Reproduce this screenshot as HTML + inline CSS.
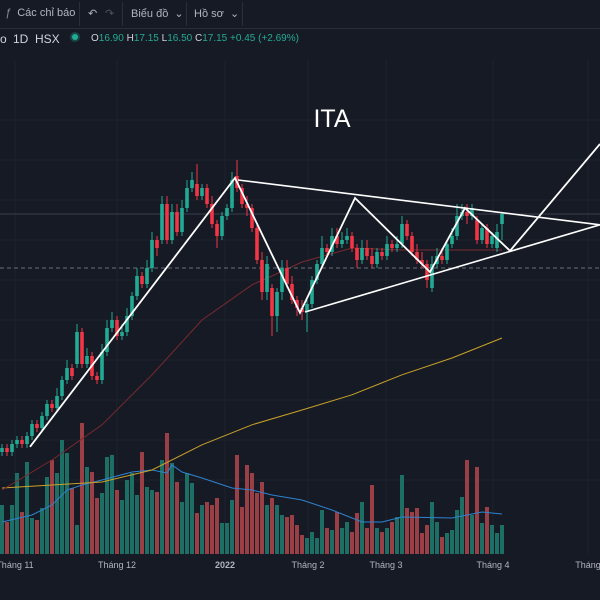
<!DOCTYPE html>
<html><head><meta charset="utf-8">
<style>
html,body{margin:0;padding:0;background:#161a25;}
body{width:600px;height:600px;overflow:hidden;position:relative;font-family:"Liberation Sans","Noto Sans CJK SC",sans-serif;}
.tb{position:absolute;left:0;top:0;width:600px;height:28px;border-bottom:1px solid #2a2e39;color:#b2b5be;font-size:11px;}
.tb span{position:absolute;top:7px;white-space:nowrap;}
.sep{position:absolute;top:2px;width:1px;height:24px;background:#2a2e39;}
.info{position:absolute;top:33px;left:0;font-size:10px;color:#d1d4dc;white-space:nowrap;}
svg{position:absolute;left:0;top:0;}
</style></head><body>
<div class="tb">
<span style="left:5px;"><i style="color:#8a8d96">ƒ</i>&nbsp; Các chỉ báo</span>
<div class="sep" style="left:79px"></div>
<span style="left:88px;">↶</span>
<span style="left:105px;color:#50535e">↷</span>
<div class="sep" style="left:122px"></div>
<span style="left:131px;">Biểu đồ &nbsp;⌄</span>
<div class="sep" style="left:186px"></div>
<span style="left:194px;">Hồ sơ &nbsp;⌄</span>
<div class="sep" style="left:242px"></div>
</div>
<div class="info">
<span style="position:absolute;left:0;font-size:12px;top:-1px">o</span>
<span style="position:absolute;left:13px;font-size:12px;top:-1px">1D</span>
<span style="position:absolute;left:35px;font-size:12px;top:-1px">HSX</span>
<span style="position:absolute;left:72px;top:1px;width:6px;height:6px;border-radius:50%;background:#22ab94;box-shadow:0 0 0 2px rgba(34,171,148,0.3)"></span>
<span style="position:absolute;left:91px;">O<b style="font-weight:normal;color:#22ab94">16.90</b> H<b style="font-weight:normal;color:#22ab94">17.15</b> L<b style="font-weight:normal;color:#22ab94">16.50</b> C<b style="font-weight:normal;color:#22ab94">17.15</b> <b style="font-weight:normal;color:#22ab94">+0.45 (+2.69%)</b></span>
</div>
<svg id="chart" width="600" height="600"></svg>
<script>
const opens=[11.2,11.3,11.2,11.4,11.5,11.4,11.6,11.9,11.8,12.1,12.4,12.3,12.6,13.0,13.3,13.4,14.2,13.4,13.6,13.1,13.0,13.7,14.3,14.5,14.1,14.2,14.6,15.1,15.6,15.4,15.8,16.5,16.5,17.4,16.5,17.2,16.7,17.3,17.8,17.9,17.6,17.8,17.4,16.9,16.6,17.1,17.3,18.1,17.8,17.4,17.3,16.8,16.0,15.2,15.3,14.6,15.2,15.8,15.4,15.0,14.8,14.7,14.9,15.5,15.9,16.3,16.2,16.6,16.4,16.5,16.6,16.3,16.0,16.3,16.1,15.9,16.2,16.1,16.4,16.3,16.4,16.9,16.6,16.2,16.0,15.9,15.3,15.9,16.1,16.0,16.4,16.6,17.1,17.2,17.1,17.0,16.5,16.8,16.4,16.3,16.9];
const closes=[11.3,11.2,11.4,11.5,11.4,11.6,11.9,11.8,12.1,12.4,12.3,12.6,13.0,13.3,13.1,14.2,13.4,13.6,13.1,13.0,13.7,14.3,14.5,14.1,14.2,14.6,15.1,15.6,15.4,15.8,16.5,16.3,17.4,16.5,17.2,16.7,17.3,17.8,18.0,17.6,17.8,17.4,16.9,16.6,17.1,17.3,18.0,17.8,17.4,17.3,16.8,16.0,15.2,15.9,14.6,15.2,15.8,15.4,15.0,14.8,14.7,14.9,15.5,15.9,16.3,16.2,16.6,16.4,16.5,16.6,16.3,16.0,16.3,16.1,15.9,16.2,16.1,16.4,16.3,16.4,16.9,16.6,16.2,16.0,15.9,15.5,15.9,16.1,16.0,16.4,16.6,17.1,17.2,17.1,17.3,16.5,16.8,16.4,16.6,16.7,17.15];
const highs=[11.4,11.4,11.5,11.6,11.6,11.7,12.0,12.0,12.2,12.5,12.5,12.8,13.1,13.5,13.4,14.4,14.3,13.8,13.7,13.2,13.9,14.5,14.7,14.6,14.4,14.8,15.2,15.8,15.7,16.0,16.7,16.6,17.6,17.6,17.4,17.4,17.5,18.0,18.2,18.4,17.9,17.9,17.6,17.0,17.2,17.4,18.2,18.5,17.9,17.6,17.4,16.9,16.2,16.1,15.4,15.3,16.0,16.0,15.6,15.1,15.0,15.0,15.6,16.0,16.6,16.4,16.8,16.8,16.7,16.8,16.7,16.4,16.5,16.5,16.3,16.3,16.3,16.6,16.5,16.6,17.1,17.0,16.7,16.4,16.2,16.0,16.1,16.3,16.3,16.5,16.8,17.4,17.4,17.4,17.4,17.1,16.9,16.9,16.7,16.9,17.2];
const lows=[11.1,11.1,11.1,11.3,11.3,11.3,11.5,11.7,11.7,12.0,12.2,12.2,12.5,12.9,13.0,13.3,13.3,13.3,13.0,12.9,12.9,13.6,14.2,14.0,14.0,14.1,14.5,15.0,15.3,15.3,15.7,16.1,16.4,16.4,16.4,16.6,16.6,17.2,17.7,17.5,17.5,17.3,16.8,16.3,16.5,17.0,17.2,17.7,17.3,17.1,16.7,15.9,15.0,15.0,14.1,14.2,15.0,15.3,14.9,14.6,14.5,14.2,14.8,15.4,15.8,16.1,16.1,16.3,16.3,16.4,16.2,15.8,15.9,16.0,15.8,15.8,16.0,16.0,16.2,16.2,16.3,16.5,16.1,15.9,15.8,15.3,15.2,15.8,15.9,15.9,16.3,16.5,17.0,16.9,17.0,16.4,16.4,16.3,16.3,16.2,16.5];
const volumes=[49,32,49,81,42,92,36,34,46,77,94,81,114,101,66,29,131,87,82,56,61,97,99,64,54,74,81,59,102,67,64,62,94,121,91,72,52,81,71,41,49,52,49,56,31,31,54,99,47,89,81,61,72,49,56,49,39,37,39,29,19,16,22,16,44,26,24,42,26,32,22,41,52,26,69,26,22,26,32,37,79,46,42,46,21,29,52,32,17,21,24,44,57,94,39,87,31,47,29,21,29];
const maRedIdx=[0,10,20,30,40,50,54,60,70,80,90,100];
const maRedVal=[10.25,11.0,11.88,13.13,14.5,15.38,15.6,15.95,16.3,16.25,16.25,16.25];
const maYelIdx=[0,20,30,40,50,60,70,80,90,100];
const maYelVal=[10.3,10.45,10.75,11.38,11.88,12.25,12.63,13.13,13.55,14.05];
const volMaIdx=[0,6,10,13,16,20,26,30,33,34,36,40,46,50,54,60,66,72,76,80,90,96,100];
const volMaVal=[32,39,49,64,69,74,82,84,81,89,82,76,66,64,59,54,44,32,32,37,36,42,40];
const zigIdx=[5.6,46.6,59.6,70.6,85.6,92.6,101.6,119.6];
const zigVal=[11.33,18.05,14.68,17.55,15.7,17.3,16.23,18.9];
const upperIdx=[47.2,119.6], upperVal=[18.0,16.88];
const lowerIdx=[60.6,119.6], lowerVal=[14.7,16.88];
const lastPrice=17.15, dashedLevel=15.8;
const monthLabels=["Tháng 11","Tháng 12","2022","Tháng 2","Tháng 3","Tháng 4","Tháng"];
const monthIdx=[2.6,23,44.6,61.2,76.8,98.2,117.2];

const svg=document.getElementById('chart');
const NS='http://www.w3.org/2000/svg';
const xS=i=>2+i*5;
const yS=p=>900-40*p;
const vS=v=>554-v;
function mk(t,a,parent){const e=document.createElementNS(NS,t);for(const k in a)e.setAttribute(k,a[k]);(parent||svg).appendChild(e);return e;}
for(let p=11;p<=20;p++){const g=mk('line',{x1:0,x2:600,y1:yS(p)+20,y2:yS(p)+20,stroke:'#1d212c','stroke-width':1});

}
monthIdx.forEach(i=>{const g=mk('line',{x1:xS(i),x2:xS(i),y1:60,y2:554,stroke:'#1d212c','stroke-width':1});

});
volumes.forEach((v,i)=>{const up=closes[i]>=opens[i];
const r=mk('rect',{x:xS(i)-2,y:vS(v),width:4,height:v,fill:up?'#1d6f66':'#9a3f46'});

});
function poly(ix,vals,fy,color,w,name){const d=ix.map((i,k)=>(k?'L':'M')+xS(i)+','+fy(vals[k])).join('');
const p=mk('path',{d:d,stroke:color,'stroke-width':w,fill:'none'});

}
poly(volMaIdx,volMaVal,vS,'#2f82d0',1,'volume-ma-line');
poly(maYelIdx,maYelVal,yS,'#c9a227',1,'ma-200-line');
poly(maRedIdx,maRedVal,yS,'#7a2a2e',1,'ma-50-line');
const lp=mk('line',{x1:0,x2:600,y1:yS(lastPrice),y2:yS(lastPrice),stroke:'#3a3e4a','stroke-width':1});


const dl=mk('line',{x1:0,x2:600,y1:yS(dashedLevel),y2:yS(dashedLevel),stroke:'#6a6d78','stroke-width':1,'stroke-dasharray':'4,3'});


opens.forEach((o,i)=>{const c=closes[i];const up=c>=o;const col=up?'#22ab94':'#f23645';
const g=mk('g',{});


mk('line',{x1:xS(i),x2:xS(i),y1:yS(highs[i]),y2:yS(lows[i]),stroke:col,'stroke-width':1},g);
const t=Math.min(yS(o),yS(c));mk('rect',{x:xS(i)-1.8,y:t,width:3.6,height:Math.max(1,Math.abs(yS(o)-yS(c))),fill:col},g);});
poly(zigIdx,zigVal,yS,'#ffffff',1.8,'zigzag-pattern-line');
poly(upperIdx,upperVal,yS,'#ffffff',1.6,'upper-trendline');
poly(lowerIdx,lowerVal,yS,'#ffffff',1.6,'lower-trendline');
monthLabels.forEach((m,k)=>{const t=mk('text',{x:xS(monthIdx[k]),y:568,fill:'#b2b5be','font-size':9,'text-anchor':'middle','font-weight':m==='2022'?'bold':'normal','font-family':'Liberation Sans, sans-serif'});t.textContent=m;

});
const tt=mk('text',{x:332,y:127,fill:'#ffffff','font-size':25,'text-anchor':'middle','font-family':'Liberation Sans, sans-serif'});tt.textContent='ITA';


</script>
</body></html>
